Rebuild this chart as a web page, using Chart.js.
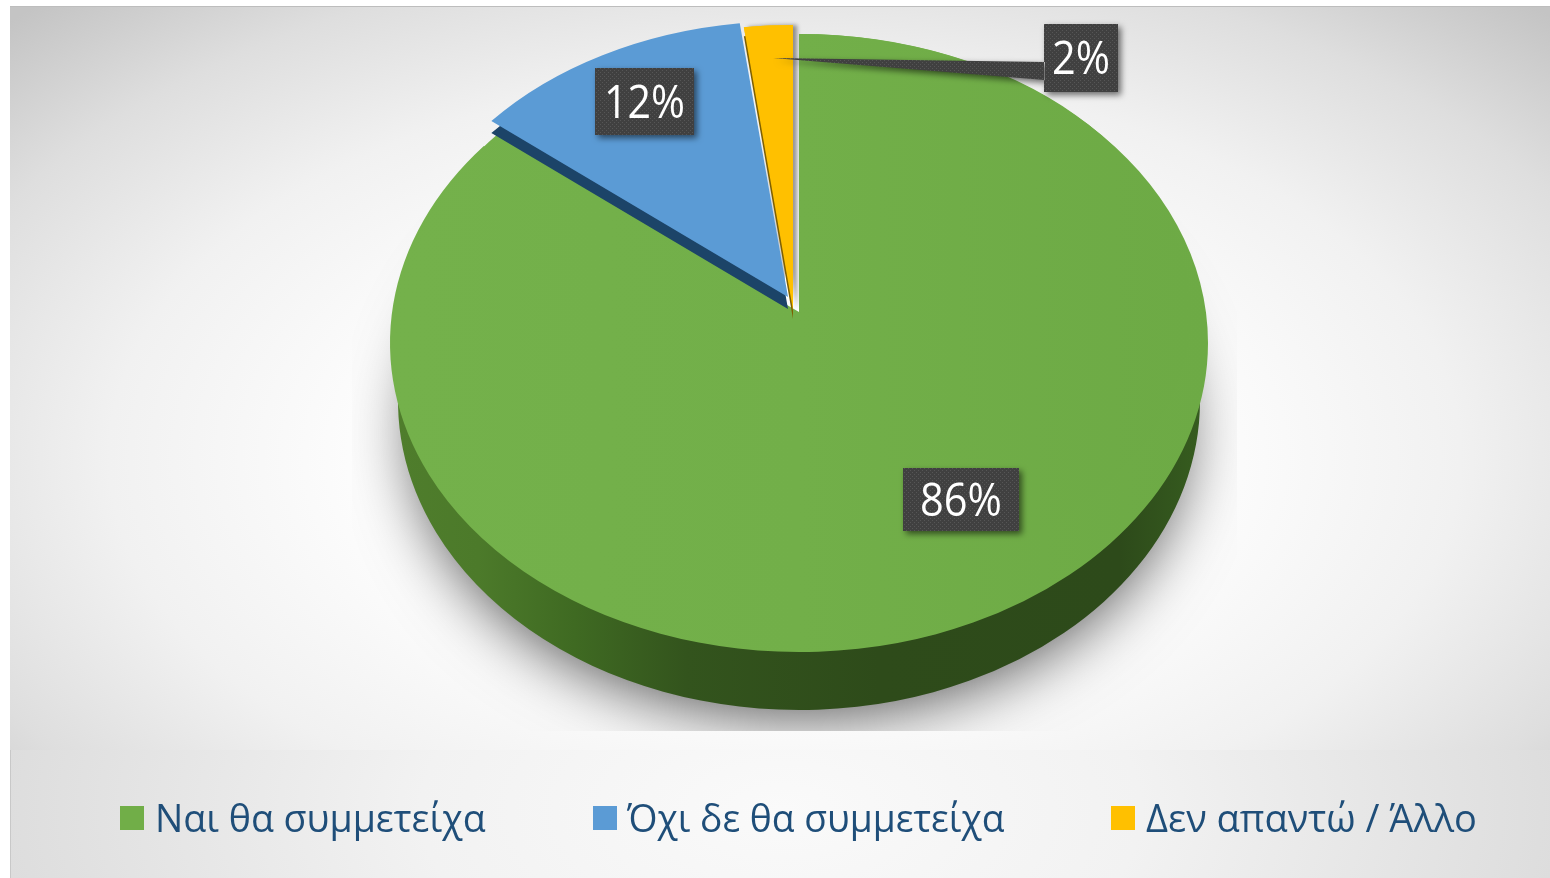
<!DOCTYPE html>
<html lang="el">
<head>
<meta charset="utf-8">
<title>Pie</title>
<script src="https://cdn.jsdelivr.net/npm/chart.js@4"></script>
<style>
    html, body { margin: 0; padding: 0; background: #fff; overflow: hidden; }
    #page { position: relative; width: 1550px; height: 878px; }
    #plot-bg {
        position: absolute; left: 10px; top: 6px; width: 1540px; height: 743px;
        border-top: 1px solid #bdbdbd;
        background: radial-gradient(ellipse 1090px 620px at 775px 450px, #ffffff 0%, #ffffff 34%, #f1f1f1 62%, #dedede 82%, #c4c4c4 100%);
    }
    #legend-bg {
        position: absolute; left: 11px; top: 750px; width: 1539px; height: 128px;
        background: radial-gradient(ellipse 800px 420px at 770px 60px, #fafafa 0%, #f2f2f2 45%, #dcdcdc 100%);
    }
    #left-line { position: absolute; left: 10px; top: 750px; width: 1px; height: 128px; background: #c8c8c8; }
    canvas { position: absolute; left: 0; top: 0; }
    .legend-box { position: absolute; top: 806px; width: 24px; height: 24px; }
    .legend-text {
        position: absolute; top: 791px; line-height: 52px; white-space: nowrap;
        font-family: "Open Sans", sans-serif; font-size: 38px; color: #1f4e79;
        transform-origin: left center;
    }
</style>
</head>
<body>
<div id="page">
    <div id="plot-bg"></div>
    <div id="legend-bg"></div>
    <div id="left-line"></div>
    <canvas id="pie-chart" width="1550" height="878"></canvas>
</div>
<script>
const categories = ["Ναι θα συμμετείχα", "Όχι δε θα συμμετείχα", "Δεν απαντώ / Άλλο"];
const seriesValues = [86, 12, 2];
const sliceColors = ["#71ae48", "#5b9bd5", "#ffc000"];
const edgeColors = ["#2f4f1a", "#1c4468", "#7f6000"];

// where each slice sits on the tilted pie: ellipse centre and radii
const sliceShape = [
    {cx: 799, cy: 343, rx: 409, ry: 309},
    {cx: 788, cy: 297, rx: 385, ry: 276},
    {cx: 793, cy: 310, rx: 392, ry: 285}
];
// the top of the green slice narrows toward its apex (perspective)
const greenApex = {cx: 799, cy: 312, rx: 392, ry: 278};
const greenSide = {cx: 799, cy: 401, rx: 401, ry: 309};
const shadowShape = {cx: 799, cy: 425, rx: 385, ry: 283};
const edgeDrop = [0, 12, 9];

const labelBoxes = [
    {x: 903, y: 468, w: 116, h: 63, textW: 82},
    {x: 595, y: 68, w: 99, h: 67, textW: 81},
    {x: 1044, y: 24, w: 74, h: 68, textW: 58}
];
const legendBoxX = [120, 593, 1111];
const legendTextX = [155, 627, 1146];
const legendTextW = [331, 377, 331];

function paintArc(ctx, arc, shape, fill) {
    let r = arc.outerRadius;
    let saved = arc.options;
    ctx.save();
    ctx.translate(shape.cx, shape.cy);
    ctx.scale(shape.rx / r, shape.ry / r);
    ctx.translate(-arc.x, -arc.y);
    arc.options = {backgroundColor: fill, borderColor: fill, borderWidth: 0, borderRadius: 0, offset: 0, spacing: 0, circular: true, borderAlign: "center"};
    arc.draw(ctx);
    arc.options = saved;
    ctx.restore();
}

function dotPattern(ctx) {
    let c = document.createElement("canvas");
    c.width = 4;
    c.height = 4;
    let p = c.getContext("2d");
    p.fillStyle = "#404040";
    p.fillRect(0, 0, 4, 4);
    p.fillStyle = "#565656";
    p.fillRect(0, 0, 1, 1);
    p.fillRect(2, 2, 1, 1);
    return ctx.createPattern(c, "repeat");
}

const tiltedPie = {
    id: "tiltedPie",
    beforeDatasetsDraw(chart) {
        let ctx = chart.ctx;
        let arcs = chart.getDatasetMeta(0).data;
        let green = arcs[0];
        let r = green.outerRadius;

        let side = ctx.createLinearGradient(green.x - r, 0, green.x + r, 0);
        side.addColorStop(0, "#4f7d2c");
        side.addColorStop(0.1, "#4c7a2a");
        side.addColorStop(0.22, "#3f6a22");
        side.addColorStop(0.36, "#33541d");
        side.addColorStop(0.6, "#2e4b1a");
        side.addColorStop(0.9, "#2d4a1a");
        side.addColorStop(1, "#365c1f");

        let top = ctx.createLinearGradient(green.x - r, 0, green.x + r, 0);
        top.addColorStop(0, "#74b14b");
        top.addColorStop(0.5, "#72af49");
        top.addColorStop(1, "#6daa45");

        // soft shadow, cut off at the sides and bottom like the picture, not inside the gap at the top
        ctx.save();
        ctx.beginPath();
        ctx.rect(352, 100, 885, 631);
        ctx.rect(785, 100, 20, 220);
        ctx.clip("evenodd");
        ctx.shadowColor = "rgba(0,0,0,0.68)";
        ctx.shadowBlur = 64;
        ctx.shadowOffsetY = 8;
        paintArc(ctx, green, shadowShape, "#2e4b1a");
        ctx.restore();

        // faint grey strip right of the yellow slice, under the green one
        ctx.save();
        ctx.shadowColor = "rgba(0,0,0,0.4)";
        ctx.shadowBlur = 4;
        ctx.shadowOffsetX = 4;
        paintArc(ctx, arcs[2], sliceShape[2], sliceColors[2]);
        ctx.restore();

        paintArc(ctx, green, greenSide, side);
        paintArc(ctx, green, sliceShape[0], top);
        paintArc(ctx, green, greenApex, top);

        for (let i = 1; i < arcs.length; i++) {
            let s = sliceShape[i];
            paintArc(ctx, arcs[i], {cx: s.cx, cy: s.cy + edgeDrop[i], rx: s.rx, ry: s.ry}, edgeColors[i]);
            paintArc(ctx, arcs[i], s, sliceColors[i]);
        }
        return false;
    },
    afterDraw(chart) {
        let ctx = chart.ctx;
        let fill = dotPattern(ctx);
        ctx.save();
        labelBoxes.forEach((b, i) => {
            ctx.save();
            ctx.shadowColor = "rgba(0,0,0,0.55)";
            ctx.shadowBlur = 6;
            ctx.shadowOffsetX = 3;
            ctx.shadowOffsetY = 3;
            ctx.fillStyle = fill;
            ctx.beginPath();
            ctx.rect(b.x, b.y, b.w, b.h);
            if (i === 2) {
                // leader of the small slice's label
                ctx.moveTo(b.x + 1, b.y + 38);
                ctx.lineTo(773, 58);
                ctx.lineTo(b.x + 1, b.y + 56);
                ctx.closePath();
            }
            ctx.fill();
            ctx.restore();
            ctx.fillStyle = "#ffffff";
            ctx.font = '46px "Open Sans", sans-serif';
            ctx.textAlign = "center";
            ctx.textBaseline = "middle";
            ctx.fillText(seriesValues[i] + "%", b.x + b.w / 2, b.y + b.h / 2 + 3, b.textW);
        });
        ctx.restore();
    }
};

new Chart(document.getElementById("pie-chart"), {
    type: "pie",
    data: {
        labels: categories,
        datasets: [{data: seriesValues, backgroundColor: sliceColors, borderWidth: 0}]
    },
    options: {
        responsive: false,
        animation: false,
        plugins: {
            legend: {display: false},
            tooltip: {enabled: false}
        }
    },
    plugins: [tiltedPie]
});

// legend under the pie
let page = document.getElementById("page");
categories.forEach((name, i) => {
    let box = document.createElement("div");
    box.className = "legend-box";
    box.style.left = legendBoxX[i] + "px";
    box.style.background = sliceColors[i];
    page.appendChild(box);
    let text = document.createElement("div");
    text.className = "legend-text";
    text.style.left = legendTextX[i] + "px";
    text.textContent = name;
    page.appendChild(text);
    text.style.transform = "scaleX(" + (legendTextW[i] / text.offsetWidth) + ")";
});
</script>
</body>
</html>
